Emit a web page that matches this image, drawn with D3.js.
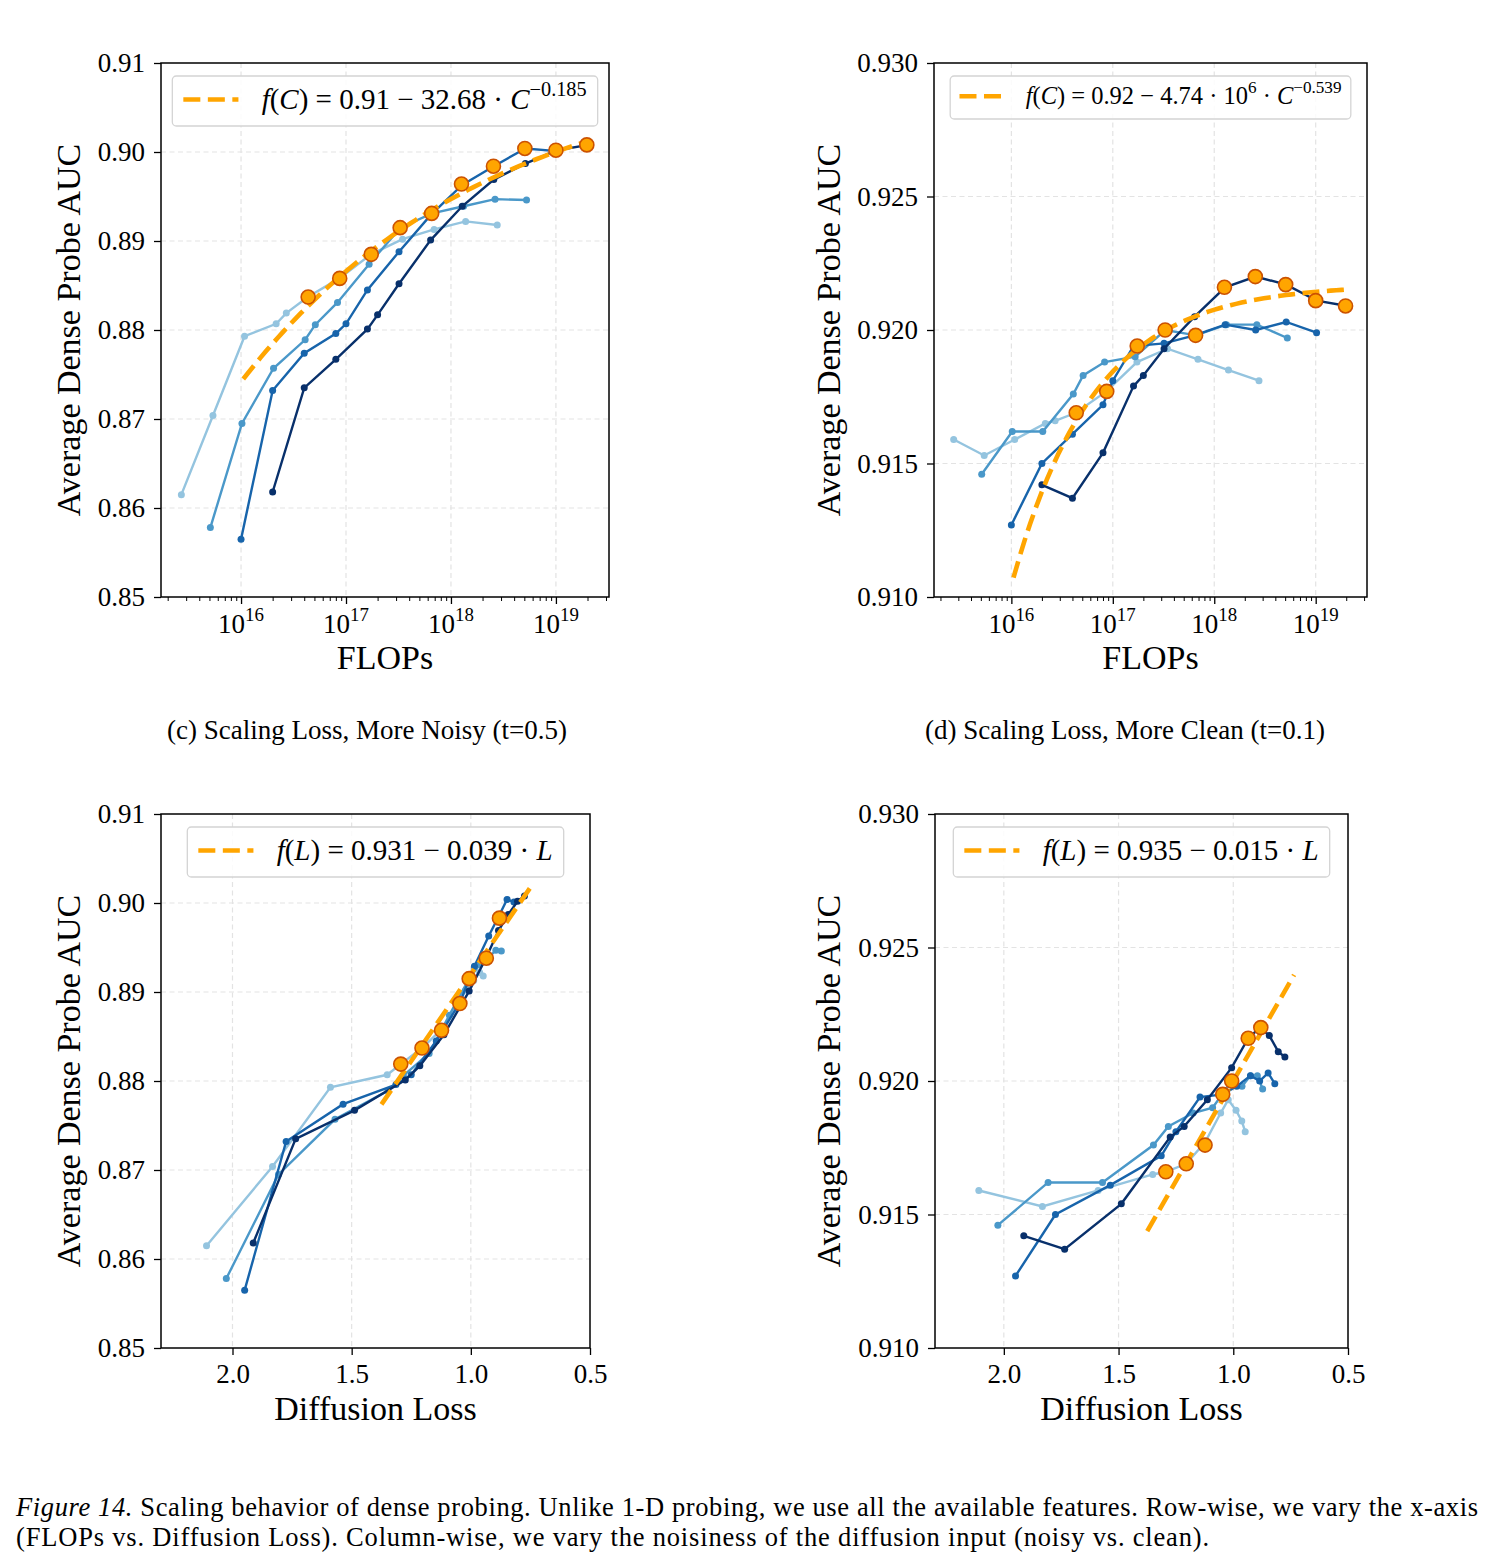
<!DOCTYPE html>
<html>
<head>
<meta charset="utf-8">
<script src="https://cdn.jsdelivr.net/npm/d3@7"></script>
<style>
  body { margin: 0; background: #fff; }
  svg text { font-family: "Liberation Serif", "Times New Roman", serif; fill: #000; }
</style>
</head>
<body>
<div id="chart"></div>
<script>
// ---- data: one array per model size (smallest -> largest) ----
// training FLOPs of each checkpoint
const flops1 = [2.7e15, 5.4e15, 1.08e16, 2.16e16, 2.7e16, 4.32e16, 8.64e16, 1.73e17, 3.46e17, 6.91e17, 1.38e18, 2.76e18];
const flops2 = [5.1e15, 1.02e16, 2.04e16, 4.08e16, 5.1e16, 8.3e16, 1.66e17, 3.3e17, 6.6e17, 1.32e18, 2.63e18, 5.25e18];
const flops3 = [1e16, 2e16, 4e16, 8e16, 1e17, 1.6e17, 3.2e17, 6.4e17, 1.28e18, 2.56e18, 5.12e18, 1.02e19];
const flops4 = [2e16, 4e16, 8e16, 1.6e17, 2e17, 3.2e17, 6.4e17, 1.28e18, 2.56e18, 5.12e18, 1.02e19, 2.05e19];

// diffusion loss of each checkpoint
const loss1 = [2.109, 1.832, 1.589, 1.351, 1.294, 1.205, 1.123, 1.055, 1.022, 0.988, 0.963, 0.948];
const loss2 = [2.026, 1.807, 1.570, 1.348, 1.283, 1.175, 1.090, 1.007, 0.962, 0.925, 0.895, 0.872];
const loss3 = [1.949, 1.775, 1.536, 1.314, 1.250, 1.145, 1.046, 0.985, 0.925, 0.885, 0.848, 0.819];
const loss4 = [1.913, 1.735, 1.488, 1.275, 1.214, 1.113, 1.007, 0.935, 0.884, 0.843, 0.804, 0.775];

// dense probe AUC, noisy input (t=0.5)
const noisy1 = [0.8615, 0.8704, 0.8793, 0.8807, 0.8819, 0.8837, 0.8858, 0.8885, 0.8902, 0.8913, 0.8922, 0.8918];
const noisy2 = [0.8578, 0.8695, 0.8757, 0.8789, 0.8806, 0.8831, 0.8874, 0.8915, 0.8931, 0.8939, 0.8947, 0.8946];
const noisy3 = [0.8565, 0.8732, 0.8774, 0.8796, 0.8807, 0.8845, 0.8888, 0.8929, 0.8963, 0.8984, 0.9004, 0.9001];
const noisy4 = [0.8618, 0.8735, 0.8767, 0.8801, 0.8817, 0.8852, 0.8901, 0.8939, 0.8969, 0.8987, 0.9002, 0.9008];

// dense probe AUC, clean input (t=0.1)
const clean1 = [0.9159, 0.9153, 0.9159, 0.9165, 0.9166, 0.9169, 0.9177, 0.9188, 0.9193, 0.9189, 0.9185, 0.9181];
const clean2 = [0.9146, 0.9162, 0.9162, 0.9176, 0.9183, 0.9188, 0.9190, 0.9200, 0.9198, 0.9202, 0.9202, 0.9197];
const clean3 = [0.9127, 0.9150, 0.9161, 0.9172, 0.9181, 0.9194, 0.9195, 0.9198, 0.9202, 0.9200, 0.9203, 0.9199];
const clean4 = [0.9142, 0.9137, 0.9154, 0.9179, 0.9183, 0.9193, 0.9205, 0.9216, 0.9220, 0.9217, 0.9211, 0.9209];

// highlighted (frontier) points
const frontierFlops = [4.36e16, 8.71e16, 1.74e17, 3.28e17, 6.55e17, 1.26e18, 2.54e18, 5.06e18, 1.0e19, 1.97e19];
const frontierNoisy = [0.8837, 0.8858, 0.8885, 0.8915, 0.8931, 0.8964, 0.8984, 0.9004, 0.9002, 0.9008];
const frontierClean = [0.9169, 0.9177, 0.9194, 0.9200, 0.9198, 0.9216, 0.9220, 0.9217, 0.9211, 0.9209];
const frontierLoss = [1.294, 1.205, 1.123, 1.046, 1.007, 0.935, 0.880];
const frontierLossNoisy = [0.8819, 0.8837, 0.8857, 0.8887, 0.8915, 0.8938, 0.8983];
const frontierLossClean = [0.9166, 0.9169, 0.9176, 0.9195, 0.9200, 0.9216, 0.9220];

// fitted curves: a - b * C^-c  and  a - b * L
const fitFlopsNoisy = [0.91, 32.68, 0.185];
const fitFlopsClean = [0.9217, 4.74e6, 0.539];
const fitFlopsRange = [1.05e16, 2.05e19];
const fitLossNoisy = [0.931, 0.039];
const fitLossClean = [0.935, 0.015];
const fitLossRange = [1.375, 0.735];

// ticks
const yTicksNoisy = [0.85, 0.86, 0.87, 0.88, 0.89, 0.90, 0.91];
const yTicksClean = [0.910, 0.915, 0.920, 0.925, 0.930];
const flopsTicks = [1e16, 1e17, 1e18, 1e19];
const lossTicks = [2.0, 1.5, 1.0, 0.5];

// ---- style ----
const blues = ["#94c4df", "#4a98c9", "#1764ab", "#08306b"];
const orange = "#ffa500";
const orangeEdge = "#cc5200";
const gridColor = "#e3e3e3";

const W = 1491, H = 1568;
const svg = d3.select("#chart").append("svg")
    .attr("width", W)
    .attr("height", H);

// log x-domain with matplotlib style 5% margins
const allFlops = flops1.concat(flops2, flops3, flops4);
const lf = d3.extent(allFlops).map(Math.log10);
const lm = (lf[1] - lf[0]) * 0.05;
const flopsDomain = [Math.pow(10, lf[0] - lm), Math.pow(10, lf[1] + lm)];

// writes text with optional italic and superscript parts
function richText(sel, x, y, parts, size, anchor) {
    let t = sel.append("text")
        .attr("x", x)
        .attr("y", y)
        .attr("font-size", size)
        .attr("text-anchor", anchor || "start");
    let up = false;
    parts.forEach(p => {
        let s = t.append("tspan").text(p.t);
        if (p.i) s.attr("font-style", "italic");
        if (p.sup) {
            s.attr("font-size", size * 0.7);
            if (!up) { s.attr("dy", -0.45 * size); up = true; }
        } else if (up) {
            s.attr("dy", 0.45 * size);
            up = false;
        }
    });
    return t;
}

function drawPanel(p) {
    let g = svg.append("g");

    let x = p.log
        ? d3.scaleLog().domain(p.xDomain).range([p.x0, p.x1])
        : d3.scaleLinear().domain(p.xDomain).range([p.x0, p.x1]);
    let y = d3.scaleLinear().domain(p.yDomain).range([p.y1, p.y0]);

    // grid
    g.append("g").selectAll("line")
        .data(p.xTicks.filter(d => x(d) > p.x0 + 1 && x(d) < p.x1 - 1))
        .join("line")
        .attr("x1", d => x(d)).attr("x2", d => x(d))
        .attr("y1", p.y0).attr("y2", p.y1)
        .attr("stroke", gridColor).attr("stroke-width", 1.2)
        .attr("stroke-dasharray", "5,3.5");
    g.append("g").selectAll("line")
        .data(p.yTicks.filter(d => y(d) > p.y0 + 1 && y(d) < p.y1 - 1))
        .join("line")
        .attr("x1", p.x0).attr("x2", p.x1)
        .attr("y1", d => y(d)).attr("y2", d => y(d))
        .attr("stroke", gridColor).attr("stroke-width", 1.2)
        .attr("stroke-dasharray", "5,3.5");

    // model series
    let line = d3.line().x(d => x(d[0])).y(d => y(d[1]));
    p.series.forEach((s, i) => {
        let pts = d3.zip(s[0], s[1]);
        g.append("path")
            .datum(pts)
            .attr("d", line)
            .attr("fill", "none")
            .attr("stroke", blues[i])
            .attr("stroke-width", 2.4);
        g.append("g").selectAll("circle")
            .data(pts)
            .join("circle")
            .attr("cx", d => x(d[0]))
            .attr("cy", d => y(d[1]))
            .attr("r", 3.5)
            .attr("fill", blues[i]);
    });

    // fitted curve
    g.append("path")
        .datum(p.fitPts)
        .attr("d", line)
        .attr("fill", "none")
        .attr("stroke", orange)
        .attr("stroke-width", 4.6)
        .attr("stroke-dasharray", "17,7.5");

    // frontier points
    g.append("g").selectAll("circle")
        .data(d3.zip(p.front[0], p.front[1]))
        .join("circle")
        .attr("cx", d => x(d[0]))
        .attr("cy", d => y(d[1]))
        .attr("r", 7)
        .attr("fill", orange)
        .attr("stroke", orangeEdge)
        .attr("stroke-width", 1.6);

    // legend (upper center)
    let fs = p.legendSize;
    let lg = g.append("g");
    let box = lg.append("rect");
    let tmp = richText(lg, 0, 0, p.legend, fs);
    let tw = tmp.node().getComputedTextLength();
    tmp.remove();
    let pad = 0.38 * fs, handle = 1.9 * fs, gap = 0.8 * fs;
    let bw = pad + handle + gap + tw + pad;
    let bh = p.legendH;
    let bx = (p.x0 + p.x1) / 2 - bw / 2, by = p.y0 + 13;
    box.attr("x", bx).attr("y", by).attr("width", bw).attr("height", bh)
        .attr("rx", 4)
        .attr("fill", "#fff").attr("fill-opacity", 0.85)
        .attr("stroke", "#d4d4d4").attr("stroke-width", 1.3);
    lg.append("line")
        .attr("x1", bx + pad).attr("x2", bx + pad + handle)
        .attr("y1", by + bh * 0.47).attr("y2", by + bh * 0.47)
        .attr("stroke", orange).attr("stroke-width", 4.6)
        .attr("stroke-dasharray", "17,7.5");
    richText(lg, bx + pad + handle + gap, by + bh * 0.47 + 0.33 * fs, p.legend, fs);

    // spines
    g.append("rect")
        .attr("x", p.x0).attr("y", p.y0)
        .attr("width", p.x1 - p.x0).attr("height", p.y1 - p.y0)
        .attr("fill", "none").attr("stroke", "#000").attr("stroke-width", 1.5);

    // y axis
    let yAxis = d3.axisLeft(y).tickValues(p.yTicks).tickFormat(d3.format(p.yFmt))
        .tickSize(7).tickPadding(9).tickSizeOuter(0);
    let ya = g.append("g").attr("transform", "translate(" + p.x0 + ",0)").call(yAxis);
    ya.select(".domain").remove();
    ya.selectAll(".tick line").attr("stroke-width", 1.3);
    ya.selectAll(".tick text").attr("font-size", 27).attr("font-family", null);

    // x axis
    let xAxis = d3.axisBottom(x).tickValues(p.xTicks).tickSize(7).tickSizeOuter(0);
    if (p.log) xAxis.tickFormat("");
    else xAxis.tickFormat(d3.format(".1f")).tickPadding(9);
    let xa = g.append("g").attr("transform", "translate(0," + p.y1 + ")").call(xAxis);
    xa.select(".domain").remove();
    xa.selectAll(".tick line").attr("stroke-width", 1.3);
    xa.selectAll(".tick text").attr("font-size", 27).attr("font-family", null);

    if (p.log) {
        // minor ticks
        let minors = [];
        for (let e = 15; e <= 19; e++) {
            for (let m = 2; m <= 9; m++) {
                let v = m * Math.pow(10, e);
                if (v > p.xDomain[0] && v < p.xDomain[1]) minors.push(v);
            }
        }
        let mAxis = d3.axisBottom(x).tickValues(minors).tickFormat("").tickSize(4).tickSizeOuter(0);
        let ma = g.append("g").attr("transform", "translate(0," + p.y1 + ")").call(mAxis);
        ma.select(".domain").remove();
        ma.selectAll(".tick line").attr("stroke-width", 1);
        p.xTicks.forEach(t => {
            richText(g, x(t), p.y1 + 36,
                [{t: "10"}, {t: String(Math.round(Math.log10(t))), sup: true}], 27, "middle");
        });
    }

    // axis labels
    g.append("text")
        .attr("transform", "translate(" + p.yLabelX + "," + (p.y0 + p.y1) / 2 + ") rotate(-90)")
        .attr("text-anchor", "middle")
        .attr("dominant-baseline", "central")
        .attr("font-size", 34)
        .text("Average Dense Probe AUC");
    g.append("text")
        .attr("x", (p.x0 + p.x1) / 2)
        .attr("y", p.y1 + 72)
        .attr("text-anchor", "middle")
        .attr("font-size", 34)
        .text(p.xLabel);
}

function powerFit(f) {
    let l0 = Math.log10(fitFlopsRange[0]), l1 = Math.log10(fitFlopsRange[1]);
    return d3.range(0, 61).map(k => {
        let c = Math.pow(10, l0 + (l1 - l0) * k / 60);
        return [c, f[0] - f[1] * Math.pow(c, -f[2])];
    });
}

function linearFit(f) {
    return fitLossRange.map(l => [l, f[0] - f[1] * l]);
}

const fSym = [{t: "f", i: true}, {t: "("}];

drawPanel({
    x0: 161, x1: 609, y0: 63, y1: 597, yLabelX: 68,
    log: true, xDomain: flopsDomain, xTicks: flopsTicks, xLabel: "FLOPs",
    yDomain: [0.85, 0.91], yTicks: yTicksNoisy, yFmt: ".2f",
    series: [[flops1, noisy1], [flops2, noisy2], [flops3, noisy3], [flops4, noisy4]],
    front: [frontierFlops, frontierNoisy],
    fitPts: powerFit(fitFlopsNoisy),
    legendSize: 29, legendH: 50,
    legend: fSym.concat([{t: "C", i: true}, {t: ") = 0.91 − 32.68 · "}, {t: "C", i: true}, {t: "−0.185", sup: true}])
});

drawPanel({
    x0: 934, x1: 1367, y0: 63, y1: 597, yLabelX: 828,
    log: true, xDomain: flopsDomain, xTicks: flopsTicks, xLabel: "FLOPs",
    yDomain: [0.910, 0.930], yTicks: yTicksClean, yFmt: ".3f",
    series: [[flops1, clean1], [flops2, clean2], [flops3, clean3], [flops4, clean4]],
    front: [frontierFlops, frontierClean],
    fitPts: powerFit(fitFlopsClean),
    legendSize: 24.5, legendH: 43,
    legend: fSym.concat([{t: "C", i: true}, {t: ") = 0.92 − 4.74 · 10"}, {t: "6", sup: true},
        {t: " · "}, {t: "C", i: true}, {t: "−0.539", sup: true}])
});

drawPanel({
    x0: 161, x1: 590, y0: 814, y1: 1348, yLabelX: 68,
    log: false, xDomain: [2.3, 0.5], xTicks: lossTicks, xLabel: "Diffusion Loss",
    yDomain: [0.85, 0.91], yTicks: yTicksNoisy, yFmt: ".2f",
    series: [[loss1, noisy1], [loss2, noisy2], [loss3, noisy3], [loss4, noisy4]],
    front: [frontierLoss, frontierLossNoisy],
    fitPts: linearFit(fitLossNoisy),
    legendSize: 29, legendH: 50,
    legend: fSym.concat([{t: "L", i: true}, {t: ") = 0.931 − 0.039 · "}, {t: "L", i: true}])
});

drawPanel({
    x0: 935, x1: 1348, y0: 814, y1: 1348, yLabelX: 828,
    log: false, xDomain: [2.3, 0.5], xTicks: lossTicks, xLabel: "Diffusion Loss",
    yDomain: [0.910, 0.930], yTicks: yTicksClean, yFmt: ".3f",
    series: [[loss1, clean1], [loss2, clean2], [loss3, clean3], [loss4, clean4]],
    front: [frontierLoss, frontierLossClean],
    fitPts: linearFit(fitLossClean),
    legendSize: 29, legendH: 50,
    legend: fSym.concat([{t: "L", i: true}, {t: ") = 0.935 − 0.015 · "}, {t: "L", i: true}])
});

// sub-captions
svg.append("text").attr("x", 367).attr("y", 739).attr("text-anchor", "middle")
    .attr("font-size", 27).text("(c) Scaling Loss, More Noisy (t=0.5)");
svg.append("text").attr("x", 1125).attr("y", 739).attr("text-anchor", "middle")
    .attr("font-size", 27).text("(d) Scaling Loss, More Clean (t=0.1)");

// figure caption
let cap1 = svg.append("text").attr("x", 16).attr("y", 1516).attr("font-size", 26.5)
    .attr("textLength", 1462).attr("lengthAdjust", "spacing");
cap1.append("tspan").attr("font-style", "italic").text("Figure 14.");
cap1.append("tspan").text(" Scaling behavior of dense probing. Unlike 1-D probing, we use all the available features. Row-wise, we vary the x-axis");
svg.append("text").attr("x", 16).attr("y", 1546).attr("font-size", 26.5)
    .attr("textLength", 1193).attr("lengthAdjust", "spacing")
    .text("(FLOPs vs. Diffusion Loss). Column-wise, we vary the noisiness of the diffusion input (noisy vs. clean).");
</script>
</body>
</html>
